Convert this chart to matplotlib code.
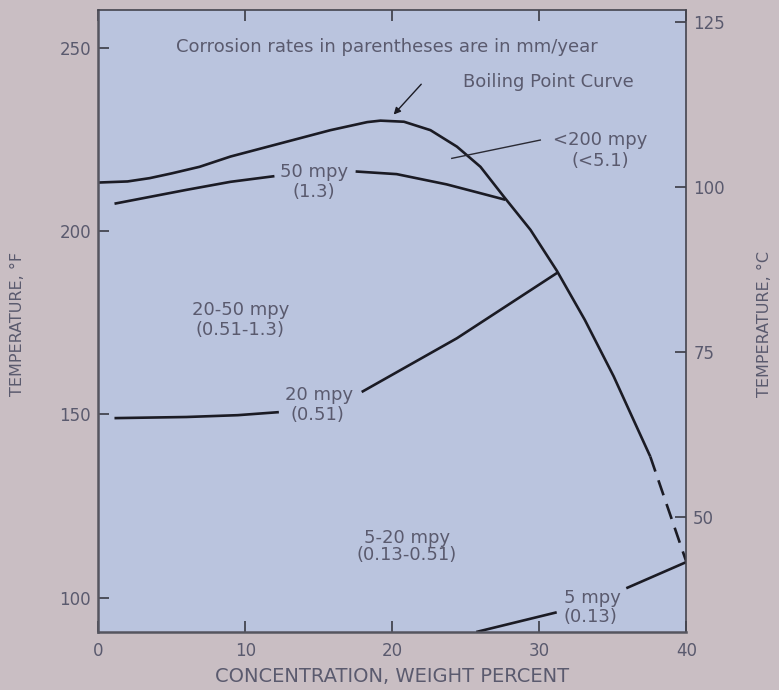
import matplotlib.pyplot as plt
import numpy as np

# boiling point curve (weight %, deg F)
bp_x = [0, 2, 3.5, 5, 6.9, 9.0, 12.4, 15.8, 18.3, 19.2, 20.8, 22.6, 24.4, 26.0, 27.6, 29.4, 31.2, 33.1, 35.06, 36.4, 37.55]
bp_f = [213.3, 213.6, 214.5, 215.8, 217.6, 220.4, 224.0, 227.6, 229.8, 230.2, 229.9, 227.6, 223.1, 217.6, 209.4, 200.4, 189.2, 175.8, 160.4, 148.6, 138.5]
bp_dash_x = [37.55, 40]
bp_dash_f = [138.5, 109.8]

# iso-corrosion lines
mpy50_a_x = [1.2, 6, 9.0, 11.9]
mpy50_a_f = [207.6, 211.3, 213.5, 215.0]
mpy50_b_x = [17.6, 20.3, 23.7, 25.8, 27.6]
mpy50_b_f = [216.3, 215.6, 212.8, 210.6, 208.7]

mpy20_a_x = [1.2, 6, 9.5, 12.2]
mpy20_a_f = [149.0, 149.3, 149.8, 150.6]
mpy20_b_x = [18, 24.4, 31.2]
mpy20_b_f = [156.3, 170.8, 188.6]

mpy5_a_x = [25.8, 31.1]
mpy5_a_f = [90.7, 95.9]
mpy5_b_x = [36, 40]
mpy5_b_f = [102.7, 109.7]

x_ticks = [0, 10, 20, 30, 40]
f_ticks = [100, 150, 200, 250]
c_ticks = [50, 75, 100, 125]

txt = '#5a5a6e'
ink = '#1b1b24'
plt.rcParams['font.family'] = ['DejaVu Sans']

fig = plt.figure(figsize=(7.79, 6.9), dpi=100, facecolor='#c9bec3')
ax = fig.add_axes([0.126, 0.084, 0.755, 0.9015])
ax.set_facecolor('#bac4de')

lw = 1.9
ax.plot(bp_x, bp_f, color=ink, lw=lw, solid_capstyle='butt', solid_joinstyle='round')
ax.plot(bp_dash_x, bp_dash_f, color=ink, lw=lw, dashes=(6, 3.5))
for xs, ys in [(mpy50_a_x, mpy50_a_f), (mpy50_b_x, mpy50_b_f),
               (mpy20_a_x, mpy20_a_f), (mpy20_b_x, mpy20_b_f),
               (mpy5_a_x, mpy5_a_f), (mpy5_b_x, mpy5_b_f)]:
    ax.plot(xs, ys, color=ink, lw=lw, solid_joinstyle='round')

ax.set_xlim(0, 40)
ax.set_ylim(90.6, 260.4)
ax.set_xticks(x_ticks)
ax.set_yticks(f_ticks)
ax.tick_params(direction='in', length=8, width=1.2, color='#3a3a44',
               labelsize=12, labelcolor=txt, top=True, pad=5)
ax.tick_params(axis='x', pad=7)

for s in ['left', 'bottom']:
    ax.spines[s].set_linewidth(1.8)
    ax.spines[s].set_color('#55555f')
for s in ['top', 'right']:
    ax.spines[s].set_linewidth(1.2)
    ax.spines[s].set_color('#44444e')

sec = ax.secondary_yaxis('right', functions=(lambda f: (f - 32) / 1.8,
                                             lambda c: c * 1.8 + 32))
sec.set_yticks(c_ticks)
sec.tick_params(direction='in', length=8, width=1.2, color='#3a3a44',
                labelsize=12, labelcolor=txt, pad=5)
sec.spines['right'].set_visible(False)

ax.set_xlabel('CONCENTRATION, WEIGHT PERCENT', fontsize=14, color=txt, labelpad=5)
fig.text(0.022, 0.53, 'TEMPERATURE, °F', rotation=90, ha='center', va='center',
         fontsize=11.5, color=txt)
fig.text(0.982, 0.53, 'TEMPERATURE, °C', rotation=90, ha='center', va='center',
         fontsize=11.5, color=txt)

fs = 13
ax.text(19.66, 250.3, 'Corrosion rates in parentheses are in mm/year', ha='center', va='center',
        fontsize=fs, color=txt)
ax.text(30.6, 240.7, 'Boiling Point Curve', ha='center', va='center', fontsize=fs, color=txt)
ax.annotate('', xy=(19.97, 231.3), xytext=(22.1, 240.7),
            arrowprops=dict(arrowstyle='-|>', color=ink, lw=1.0, mutation_scale=10))
ax.text(34.15, 224.9, '<200 mpy', ha='center', va='center', fontsize=fs, color=txt)
ax.text(34.15, 219.3, '(<5.1)', ha='center', va='center', fontsize=fs, color=txt)
ax.plot([30.07, 24.05], [224.9, 219.9], color='#2a2a34', lw=1.0)
ax.text(14.7, 216.2, '50 mpy', ha='center', va='center', fontsize=fs, color=txt)
ax.text(14.7, 210.7, '(1.3)', ha='center', va='center', fontsize=fs, color=txt)
ax.text(9.66, 178.5, '20-50 mpy', ha='center', va='center', fontsize=fs, color=txt)
ax.text(9.66, 173.1, '(0.51-1.3)', ha='center', va='center', fontsize=fs, color=txt)
ax.text(15.0, 155.4, '20 mpy', ha='center', va='center', fontsize=fs, color=txt)
ax.text(14.9, 149.9, '(0.51)', ha='center', va='center', fontsize=fs, color=txt)
ax.text(21.0, 116.4, '5-20 mpy', ha='center', va='center', fontsize=fs, color=txt)
ax.text(21.0, 111.7, '(0.13-0.51)', ha='center', va='center', fontsize=fs, color=txt)
ax.text(33.6, 100.0, '5 mpy', ha='center', va='center', fontsize=fs, color=txt)
ax.text(33.5, 94.6, '(0.13)', ha='center', va='center', fontsize=fs, color=txt)

fig.savefig('out.png', dpi=100, facecolor=fig.get_facecolor())
